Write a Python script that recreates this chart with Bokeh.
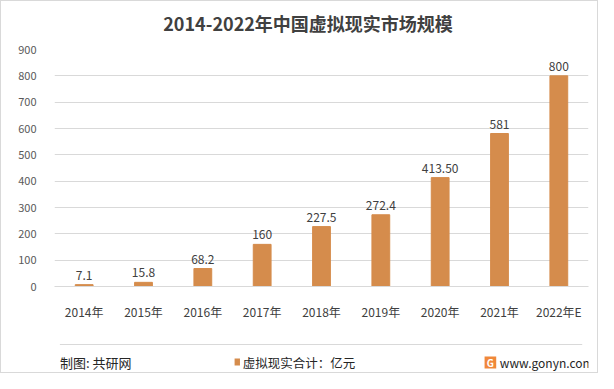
from bokeh.plotting import figure
from bokeh.layouts import column
from bokeh.models import ColumnDataSource, LabelSet, FactorRange, FixedTicker, Range1d
from bokeh.core.properties import value
from bokeh.embed import file_html
from bokeh.resources import INLINE

years = ["2014年", "2015年", "2016年", "2017年", "2018年", "2019年", "2020年", "2021年", "2022年E"]
values = [7.1, 15.8, 68.2, 160, 227.5, 272.4, 413.5, 581, 800]
value_labels = ["7.1", "15.8", "68.2", "160", "227.5", "272.4", "413.50", "581", "800"]
y_ticks = [0, 100, 200, 300, 400, 500, 600, 700, 800, 900]

title_text = "2014-2022年中国虚拟现实市场规模"
source_text = "制图: 共研网"
legend_text = "虚拟现实合计：亿元"
site_text = "www.gonyn.com"

FONT = "Noto Sans CJK SC"
BAR = "#D58C4C"
TXT = "#404040"
W = 596


def blank(h):
    f = figure(width=W, height=h, x_range=Range1d(0, W), y_range=Range1d(h, 0),
               x_axis_type=None, y_axis_type=None, output_backend="svg",
               toolbar_location=None, min_border=0)
    f.outline_line_color = None
    f.grid.visible = False
    return f


# header
head = blank(41)
head.text(x=[283], y=[21], text=[title_text], text_align="center", text_baseline="middle",
          text_font=value(FONT), text_font_size="18px", text_font_style="bold", text_color=TXT)

# main chart
src = ColumnDataSource(dict(x=years, top=values, lab=value_labels))
p = figure(x_range=FactorRange(*years, range_padding=0), y_range=Range1d(0, 900),
           width=W, height=280, output_backend="svg", toolbar_location=None,
           min_border_left=53, min_border_right=9, min_border_top=7, min_border_bottom=30)
p.outline_line_color = None

p.vbar(x="x", top="top", width=0.3, source=src, fill_color=BAR, line_color=BAR)
p.add_layout(LabelSet(x="x", y="top", text="lab", source=src, y_offset=5,
                      text_align="center", text_baseline="bottom",
                      text_font=value(FONT), text_font_size="12px", text_color=TXT))

p.yaxis.ticker = FixedTicker(ticks=y_ticks)
p.yaxis.axis_line_color = None
p.yaxis.major_tick_line_color = None
p.yaxis.minor_tick_line_color = None
p.yaxis.major_label_standoff = 12
p.yaxis.major_label_text_font = FONT
p.yaxis.major_label_text_font_size = "11px"
p.yaxis.major_label_text_color = "#595959"

p.xaxis.axis_line_color = "#d9d9d9"
p.xaxis.major_tick_line_color = None
p.xaxis.minor_tick_line_color = None
p.xaxis.major_label_standoff = 10
p.xaxis.major_label_text_font = FONT
p.xaxis.major_label_text_font_size = "12px"
p.xaxis.major_label_text_color = TXT

p.xgrid.grid_line_color = None
p.ygrid.grid_line_color = "#d9d9d9"

# footer
foot = blank(50)
foot.segment(x0=[6], y0=[22], x1=[589], y1=[22], line_color="#d9d9d9", line_width=1)
foot.text(x=[6], y=[40], text=[source_text], text_align="left", text_baseline="middle",
          text_font=value(FONT), text_font_size="13px", text_color="#262626")
foot.quad(left=[201], right=[207], top=[36], bottom=[43], fill_color=BAR, line_color=None)
foot.text(x=[210], y=[40], text=[legend_text], text_align="left", text_baseline="middle",
          text_font=value(FONT), text_font_size="12.5px", text_color="#262626")
foot.quad(left=[480], right=[493], top=[34], bottom=[46], fill_color="#F0883A", line_color=None)
foot.text(x=[486.5], y=[40], text=["G"], text_align="center", text_baseline="middle",
          text_font=value(FONT), text_font_size="10px", text_font_style="bold", text_color="white")
foot.text(x=[497], y=[40], text=[site_text], text_align="left", text_baseline="middle",
          text_font=value(FONT), text_font_size="12px", text_color="#262626")

layout = column(head, p, foot, spacing=0, styles={"border": "1px solid #d9d9d9"})

open("out.html", "w").write(file_html(layout, INLINE))
